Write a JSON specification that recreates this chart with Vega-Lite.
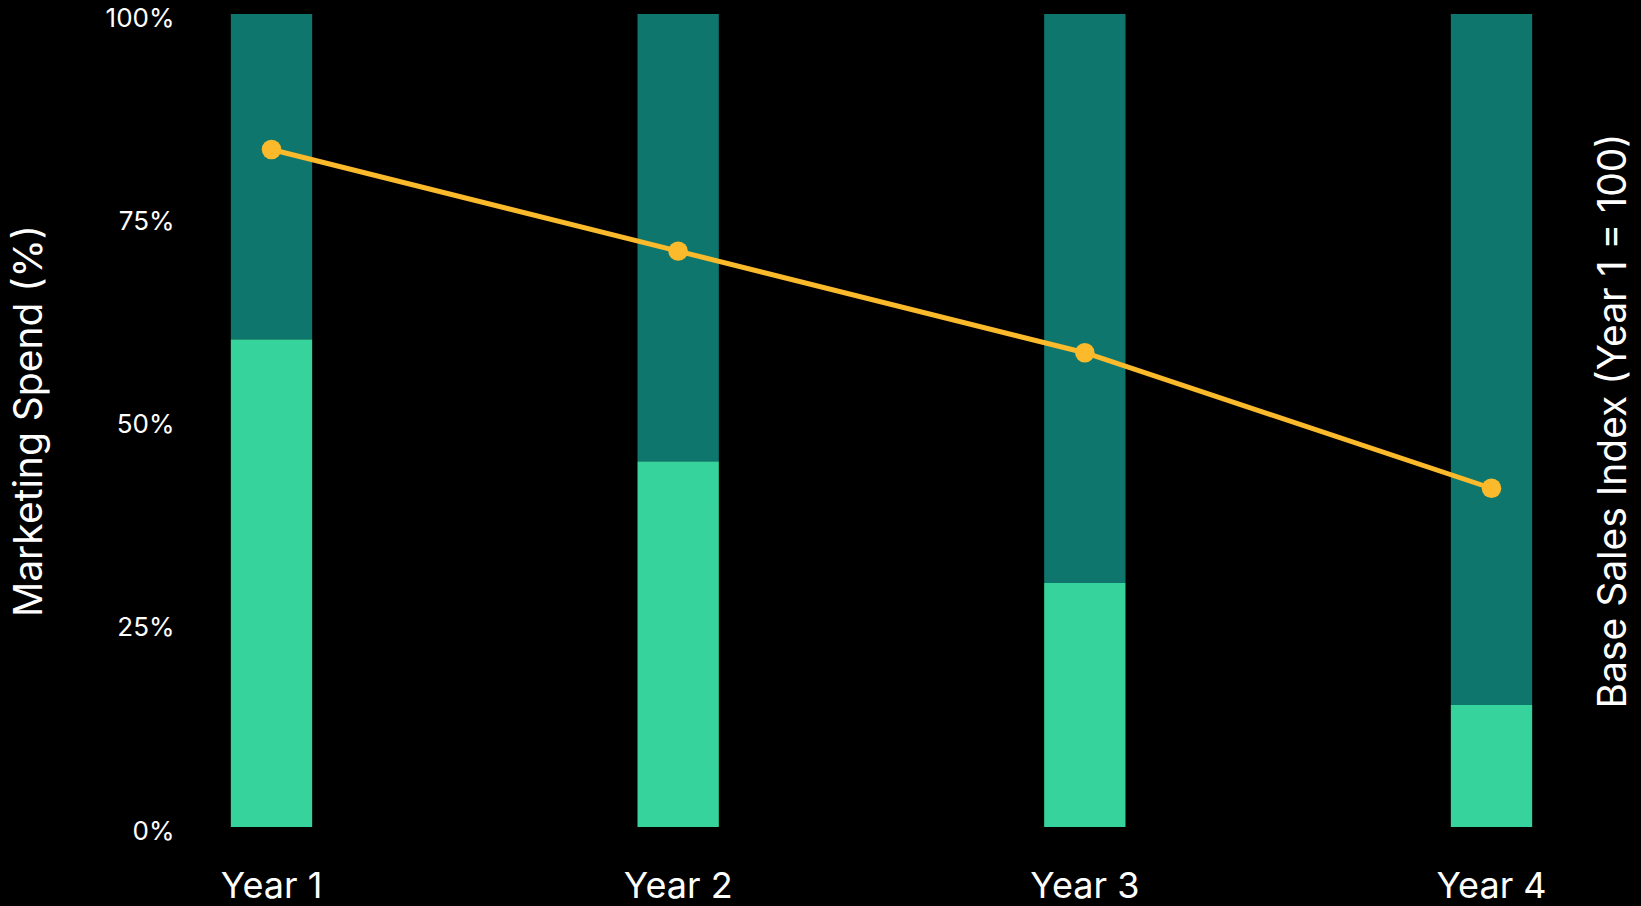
{
  "$schema": "https://vega.github.io/schema/vega-lite/v6.json",
  "width": 1403,
  "height": 813,
  "autosize": {"type": "none"},
  "padding": {"left": 180, "top": 14, "right": 58, "bottom": 79},
  "background": "#000000",
  "config": {
    "view": {"stroke": null},
    "font": "Inter",
    "axis": {
      "grid": false,
      "domain": false,
      "ticks": false,
      "labelColor": "#ffffff",
      "titleColor": "#ffffff",
      "labelFont": "Inter",
      "titleFont": "Inter",
      "titleFontWeight": "normal"
    }
  },
  "layer": [
    {
      "data": {
        "values": [
          {"year": "Year 1", "segment": "Base", "value": 60, "order": 1},
          {"year": "Year 1", "segment": "Other", "value": 40, "order": 2},
          {"year": "Year 2", "segment": "Base", "value": 45, "order": 1},
          {"year": "Year 2", "segment": "Other", "value": 55, "order": 2},
          {"year": "Year 3", "segment": "Base", "value": 30, "order": 1},
          {"year": "Year 3", "segment": "Other", "value": 70, "order": 2},
          {"year": "Year 4", "segment": "Base", "value": 15, "order": 1},
          {"year": "Year 4", "segment": "Other", "value": 85, "order": 2}
        ]
      },
      "mark": {"type": "bar"},
      "encoding": {
        "x": {
          "field": "year",
          "type": "nominal",
          "scale": {"paddingInner": 0.8, "paddingOuter": 0.125},
          "axis": {"labelAngle": 0, "labelFontSize": 36, "labelPadding": 42, "title": null}
        },
        "y": {
          "field": "value",
          "type": "quantitative",
          "stack": "zero",
          "scale": {"domain": [0, 100], "nice": false},
          "axis": {
            "values": [0, 25, 50, 75, 100],
            "labelExpr": "datum.value + '%'",
            "labelFontSize": 26,
            "labelPadding": 6,
            "labelOffset": 4,
            "title": "Marketing Spend (%)",
            "titleFontSize": 39,
            "titlePadding": 56
          }
        },
        "color": {
          "field": "segment",
          "type": "nominal",
          "scale": {"domain": ["Base", "Other"], "range": ["#37D39C", "#0F766E"]},
          "legend": null
        },
        "order": {"field": "order", "type": "quantitative"}
      }
    },
    {
      "data": {
        "values": [
          {"year": "Year 1", "index": 100},
          {"year": "Year 2", "index": 85},
          {"year": "Year 3", "index": 70},
          {"year": "Year 4", "index": 50}
        ]
      },
      "mark": {
        "type": "line",
        "color": "#FBBA2B",
        "strokeWidth": 5,
        "point": {"filled": true, "size": 380, "color": "#FBBA2B", "opacity": 1}
      },
      "encoding": {
        "x": {"field": "year", "type": "nominal"},
        "y": {
          "field": "index",
          "type": "quantitative",
          "scale": {"domain": [0, 120], "nice": false},
          "axis": {
            "orient": "right",
            "labels": false,
            "title": "Base Sales Index (Year 1 = 100)",
            "titleFontSize": 39,
            "titleAngle": 270,
            "titlePadding": 50
          }
        }
      }
    }
  ],
  "resolve": {"scale": {"y": "independent"}}
}
